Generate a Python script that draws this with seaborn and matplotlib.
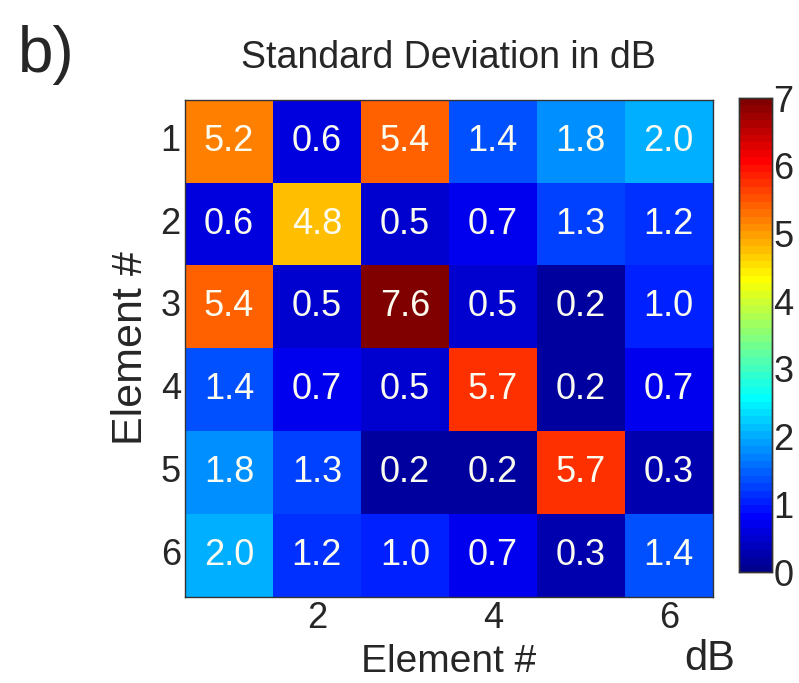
import matplotlib
matplotlib.use("Agg")
import matplotlib.pyplot as plt
from matplotlib.colors import ListedColormap
import seaborn as sns
import numpy as np
import pandas as pd

elements = [1, 2, 3, 4, 5, 6]
row1 = [5.2, 0.6, 5.4, 1.4, 1.8, 2.0]
row2 = [0.6, 4.8, 0.5, 0.7, 1.3, 1.2]
row3 = [5.4, 0.5, 7.6, 0.5, 0.2, 1.0]
row4 = [1.4, 0.7, 0.5, 5.7, 0.2, 0.7]
row5 = [1.8, 1.3, 0.2, 0.2, 5.7, 0.3]
row6 = [2.0, 1.2, 1.0, 0.7, 0.3, 1.4]
xtick_labels = ["2", "4", "6"]
cbar_ticks = [0, 1, 2, 3, 4, 5, 6, 7]

df = pd.DataFrame([row1, row2, row3, row4, row5, row6], index=elements, columns=elements)


def matlab_jet(n=64):
    m = int(np.ceil(n / 4))
    u = np.concatenate([np.arange(1, m + 1) / m, np.ones(m - 1), np.arange(m, 0, -1) / m])
    g = int(np.ceil(m / 2)) - (1 if n % 4 == 1 else 0) + np.arange(1, len(u) + 1)
    r = g + m
    b = g - m
    g = g[g <= n]
    r = r[r <= n]
    b = b[b >= 1]
    J = np.zeros((n, 3))
    J[r - 1, 0] = u[:len(r)]
    J[g - 1, 1] = u[:len(g)]
    J[b - 1, 2] = u[len(u) - len(b):]
    return ListedColormap(J)


sns.set_style("white")
plt.rcParams['font.family'] = ['Liberation Sans', 'DejaVu Sans']

fig = plt.figure(figsize=(7.99, 6.83), dpi=100)
ax = fig.add_axes([0.2315, 0.126, 0.6605, 0.728])
cax = fig.add_axes([0.925, 0.1625, 0.041, 0.694])

sns.heatmap(df, ax=ax, cbar_ax=cax, cmap=matlab_jet(64), vmin=0, vmax=7,
            annot=True, fmt='.1f',
            annot_kws={'fontsize': 26, 'color': '#fbfbf0'},
            cbar_kws={'ticks': cbar_ticks})

ax.set_xticks([1.5, 3.5, 5.5])
ax.set_xticklabels(xtick_labels, fontsize=26, rotation=0)
ax.set_yticks([i + 0.5 for i in range(6)])
ax.set_yticklabels([str(e) for e in elements], fontsize=26, rotation=0)
ax.tick_params(axis='both', direction='in', length=4, pad=3, color='#333333')
ax.set_xlabel("Element #", fontsize=28, labelpad=6)
ax.set_ylabel("Element #", fontsize=31, labelpad=7)
ax.set_title("Standard Deviation in dB", fontsize=27, pad=23)
for s in ax.spines.values():
    s.set_visible(True)
    s.set_color('#333333')
    s.set_linewidth(1)

cax.tick_params(labelsize=26, direction='in', length=3, pad=1)
for s in cax.spines.values():
    s.set_visible(True)
    s.set_color('#333333')
    s.set_linewidth(1)

fig.text(0.022, 0.895, "b)", fontsize=46)
fig.text(0.92, 0.019, "dB", fontsize=30, ha='right')

fig.savefig("out.png", dpi=100)
